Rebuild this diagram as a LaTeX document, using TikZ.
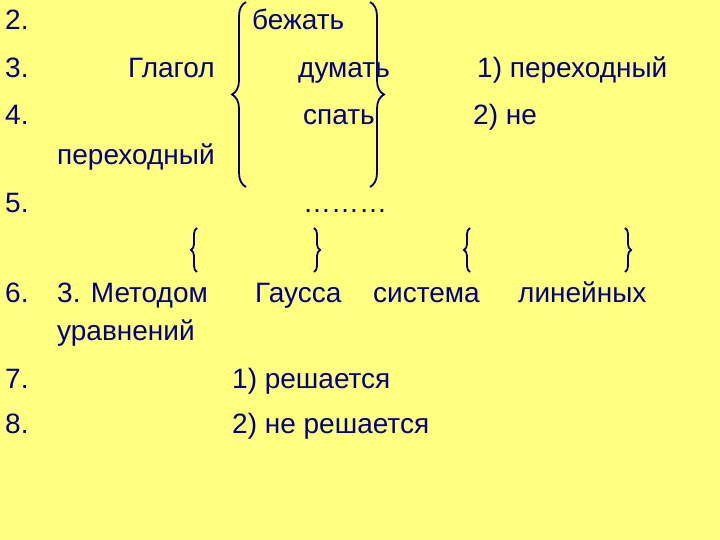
\documentclass[tikz,border=0pt]{standalone}
\usepackage{fontspec}
\setmainfont{Liberation Sans}
\usetikzlibrary{decorations.pathreplacing}
\definecolor{bg}{RGB}{255,255,128}
\definecolor{ink}{RGB}{0,0,128}
\begin{document}
\begin{tikzpicture}[x=1pt,y=-1pt,
  t/.style={anchor=base west,inner sep=0pt,text=ink,font=\fontsize{28}{30}\selectfont},
  br/.style={draw=ink,line width=1.8pt,decorate,decoration={brace,amplitude=#1}}]
\fill[bg] (0,0) rectangle (720,540);
\useasboundingbox (0,0) rectangle (720,540);
\node[t] (n2) at (5,30) {2.};
\node[t] (n3) at (5,78) {3.};
\node[t] (n4) at (5,125) {4.};
\node[t] (n5) at (5,213) {5.};
\node[t] (n6) at (5,302) {6.};
\node[t] (n7) at (5,388) {7.};
\node[t] (n8) at (5,433) {8.};
\node[t] (a) at (252,30) {бежать};
\node[t] (b) at (128,78) {Глагол};
\node[t] (c) at (298,78) {думать};
\node[t] (d) at (477,78) {1) переходный};
\node[t] (e) at (303,125) {спать};
\node[t] (f) at (473,125) {2) не};
\node[t] (g) at (57,165) {переходный};
\node[t] (h) at (303,213) {………};
\node[t] (i) at (57,302) {3. Методом};
\node[t] (j) at (255,302) {Гаусса};
\node[t] (k) at (373,302) {система};
\node[t] (l) at (518,302) {линейных};
\node[t] (m) at (57,340) {уравнений};
\node[t] (o) at (232,388) {1) решается};
\node[t] (p) at (232,433) {2) не решается};
\coordinate (L1) at (246,187); \coordinate (L2) at (246,2);
\coordinate (R1) at (370,2); \coordinate (R2) at (370,187);
\draw[br=14pt] (L1) -- (L2);
\draw[br=14pt] (R1) -- (R2);
\coordinate (s1) at (197,272); \coordinate (s2) at (197,228);
\coordinate (s3) at (314,228); \coordinate (s4) at (314,272);
\coordinate (s5) at (470,272); \coordinate (s6) at (470,228);
\coordinate (s7) at (625,228); \coordinate (s8) at (625,272);
\draw[br=6pt] (s1) -- (s2);
\draw[br=6pt] (s3) -- (s4);
\draw[br=6pt] (s5) -- (s6);
\draw[br=6pt] (s7) -- (s8);
\end{tikzpicture}
\end{document}
